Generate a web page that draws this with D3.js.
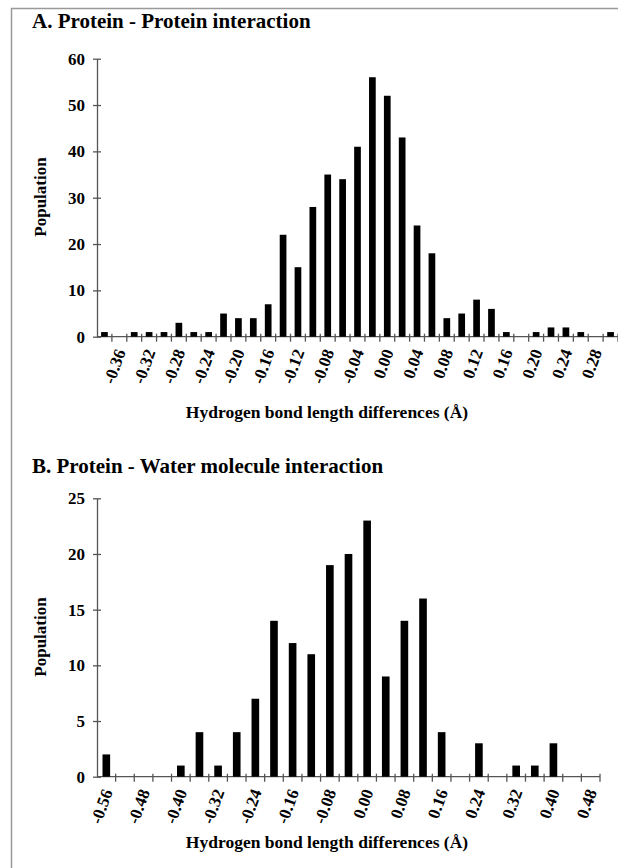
<!DOCTYPE html>
<html>
<head>
<meta charset="utf-8">
<script src="https://cdn.jsdelivr.net/npm/d3@7"></script>
<style>
  body { margin: 0; background: #fff; }
  svg { display: block; }
  text { font-family: "Liberation Serif", "Times New Roman", serif; font-weight: bold; fill: #000; }
  .axis path, .axis line { stroke: #555; stroke-width: 1.3; }
  .axis text { font-size: 17px; }
</style>
</head>
<body>
<div id="graphic"></div>
<script>
// Panel A: protein - protein hydrogen bonds
var proteinCats = ["-0.38","-0.36","-0.34","-0.32","-0.30","-0.28","-0.26","-0.24","-0.22","-0.20",
  "-0.18","-0.16","-0.14","-0.12","-0.10","-0.08","-0.06","-0.04","-0.02","0.00",
  "0.02","0.04","0.06","0.08","0.10","0.12","0.14","0.16","0.18","0.20",
  "0.22","0.24","0.26","0.28","0.30"];
var proteinValues = [1,0,1,1,1,3,1,1,5,4,4,7,22,15,28,35,34,41,56,52,43,24,18,4,5,8,6,1,0,1,2,2,1,0,1];
var proteinLabels = ["-0.36","-0.32","-0.28","-0.24","-0.20","-0.16","-0.12","-0.08","-0.04",
  "0.00","0.04","0.08","0.12","0.16","0.20","0.24","0.28"];
var proteinTicks = [0,10,20,30,40,50,60];

// Panel B: protein - water molecule hydrogen bonds
var waterCats = ["-0.56","-0.52","-0.48","-0.44","-0.40","-0.36","-0.32","-0.28","-0.24","-0.20",
  "-0.16","-0.12","-0.08","-0.04","0.00","0.04","0.08","0.12","0.16","0.20",
  "0.24","0.28","0.32","0.36","0.40","0.44","0.48"];
var waterValues = [2,0,0,0,1,4,1,4,7,14,12,11,19,20,23,9,14,16,4,0,3,0,1,1,3,0,0];
var waterLabels = ["-0.56","-0.48","-0.40","-0.32","-0.24","-0.16","-0.08","0.00",
  "0.08","0.16","0.24","0.32","0.40","0.48"];
var waterTicks = [0,5,10,15,20,25];

(function(d3) {
  var width = 618, height = 868;

  var svg = d3.select("#graphic").append("svg")
      .attr("width", width)
      .attr("height", height);

  // Grey frame, only the left and top edges fall inside the picture
  svg.append("path")
    .attr("d", "M11.5,868V8.5H618")
    .attr("fill", "none")
    .attr("stroke", "#999")
    .attr("stroke-width", 1.5);

  drawPanel({
    title: "A. Protein - Protein interaction",
    titleY: 28,
    cats: proteinCats, values: proteinValues, labels: proteinLabels, ticks: proteinTicks,
    x0: 97, x1: 618, padding: 0.55,
    top: 58.7, bottom: 336.7,
    xTitleY: 418, yTitleY: 197
  });

  drawPanel({
    title: "B. Protein - Water molecule interaction",
    titleY: 473,
    cats: waterCats, values: waterValues, labels: waterLabels, ticks: waterTicks,
    x0: 97, x1: 600, padding: 0.59,
    top: 498.3, bottom: 776.7,
    xTitleY: 848, yTitleY: 637
  });

  function drawPanel(p) {
    var x = d3.scaleBand()
        .domain(p.cats)
        .range([p.x0, p.x1])
        .paddingInner(p.padding)
        .paddingOuter(p.padding / 2);

    var y = d3.scaleLinear()
        .domain([0, d3.max(p.ticks)])
        .range([p.bottom, p.top]);

    var g = svg.append("g");

    g.append("text")
      .attr("x", 32)
      .attr("y", p.titleY)
      .attr("font-size", "21px")
      .text(p.title);

    // y axis, cross tick marks
    var yAxis = d3.axisLeft(y)
        .tickValues(p.ticks)
        .tickSize(4)
        .tickPadding(8)
        .tickSizeOuter(0);

    var yg = g.append("g")
      .attr("class", "axis")
      .attr("transform", "translate(" + p.x0 + ",0)")
      .call(yAxis);

    yg.selectAll(".tick line").attr("x2", 4).attr("x1", -4);

    // x axis: ticks on the category boundaries, labels on every other category
    var step = x.step();
    var bounds = p.cats.map(function(c) { return x(c) - (step - x.bandwidth()) / 2; });
    bounds.push(p.x1);

    var xg = g.append("g").attr("class", "axis");

    xg.append("line")
      .attr("x1", p.x0).attr("x2", p.x1)
      .attr("y1", p.bottom).attr("y2", p.bottom);

    xg.selectAll("line.tick")
        .data(bounds.slice(1))
      .enter().append("line")
        .attr("class", "tick")
        .attr("x1", function(d) { return d; })
        .attr("x2", function(d) { return d; })
        .attr("y1", p.bottom - 3)
        .attr("y2", p.bottom + 5);

    xg.selectAll("text")
        .data(p.labels)
      .enter().append("text")
        .attr("text-anchor", "end")
        .attr("dy", "0.35em")
        .attr("transform", function(d) {
          return "translate(" + (x(d) + x.bandwidth() / 2 + 1) + "," + (p.bottom + 13) + ") rotate(-70)";
        })
        .text(function(d) { return d; });

    // bars
    g.append("g").selectAll("rect")
        .data(p.values)
      .enter().append("rect")
        .attr("x", function(d, i) { return x(p.cats[i]); })
        .attr("y", function(d) { return y(d); })
        .attr("width", x.bandwidth())
        .attr("height", function(d) { return p.bottom - y(d); })
        .attr("fill", "#000");

    // axis titles
    g.append("text")
      .attr("x", 327)
      .attr("y", p.xTitleY)
      .attr("text-anchor", "middle")
      .attr("font-size", "17.5px")
      .text("Hydrogen bond length differences (Å)");

    g.append("text")
      .attr("transform", "translate(46," + p.yTitleY + ") rotate(-90)")
      .attr("text-anchor", "middle")
      .attr("font-size", "17px")
      .text("Population");
  }
})(d3);
</script>
</body>
</html>
